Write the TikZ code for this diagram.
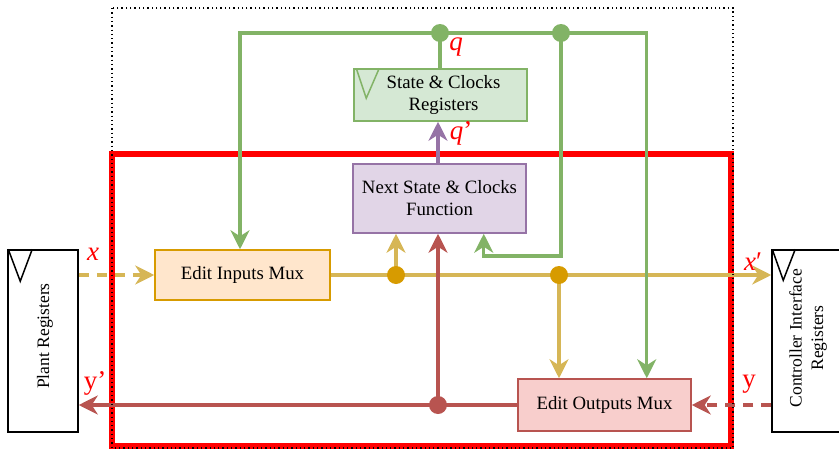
\documentclass[tikz,border=0pt]{standalone}
\usepackage{fontspec}
\setmainfont{Liberation Serif}
\usetikzlibrary{arrows.meta}
\definecolor{ylw}{HTML}{D6B656}
\definecolor{ylwdot}{HTML}{D79B00}
\definecolor{grn}{HTML}{82B366}
\definecolor{rdd}{HTML}{B85450}
\definecolor{prp}{HTML}{9673A6}
\definecolor{fOrange}{HTML}{FFE6CC}
\definecolor{fPurple}{HTML}{E1D5E7}
\definecolor{fGreen}{HTML}{D5E8D4}
\definecolor{fRed}{HTML}{F8CECC}
\tikzset{
  blk/.style={draw, line width=1.5pt, align=center, inner sep=0pt,
    font=\fontsize{18.8}{22}\selectfont, text=black},
  reg/.style={draw=black, line width=1.5pt, fill=white, minimum width=70pt, minimum height=182pt, inner sep=0pt},
  conn/.style={line width=3.3pt},
  tip/.style={-{Stealth[length=19pt,width=19pt,inset=6pt]}},
  dot/.style={circle, inner sep=0pt, minimum size=18pt},
  lbl/.style={text=red, font=\fontsize{27}{29}\selectfont, inner sep=0pt},
}
\begin{document}
\begin{tikzpicture}[x=1pt,y=-1pt]
\useasboundingbox (0,0) rectangle (839,450);
% red frame
\draw[red, line width=6pt] (112,154) rectangle (731,446);

% nodes
\node[blk, draw=ylwdot, fill=fOrange, minimum width=175pt, minimum height=50pt] (ein) at (242.5,275) {Edit Inputs Mux};
\node[blk, draw=prp, fill=fPurple, minimum width=173pt, minimum height=69pt] (ns) at (439.5,198.5) {Next State \& Clocks\\Function};
\node[blk, draw=grn, fill=fGreen, minimum width=173pt, minimum height=52pt] (sc) at (440.5,95) {\hspace*{6pt}State \& Clocks\\\hspace*{6pt}Registers};
\draw[grn, line width=1.5pt] ([xshift=3pt]sc.north west) -- ([xshift=13pt,yshift=-30pt]sc.north west) -- ([xshift=26pt]sc.north west);
\node[blk, draw=rdd, fill=fRed, minimum width=173pt, minimum height=52pt] (eout) at (604.5,405) {Edit Outputs Mux};

\node[reg] (plant) at (43,341) {};
\node[rotate=90, font=\fontsize{17.5}{20}\selectfont] (plantt) at (45,336) {Plant Registers};
\draw[line width=1.5pt] (plant.north west) ++(1,0) -- ++(12,32) -- ++(12,-32);
\node[reg] (ctrl) at (807,341) {};
\node[rotate=90, align=center, font=\fontsize{17.5}{21.5}\selectfont] (ctrlt) at (808,338) {Controller Interface\\Registers};
\draw[line width=1.5pt] (ctrl.north west) ++(1,0) -- ++(11,31) -- ++(12,-31);

% coordinates
\coordinate (d1) at (396,275);
\coordinate (d2) at (559,275);
\coordinate (d3) at (438,405);
\coordinate (g1) at (440,33);
\coordinate (g2) at (561,33);

% yellow
\draw[conn, ylw, tip, dashed, dash pattern=on 10pt off 8pt] (plant.east |- ein.west) -- (ein.west);
\draw[conn, ylw, tip] (ein.east) -- (ctrl.west |- ein.east);
\draw[conn, ylw, tip] (d1) -- (d1 |- ns.south);
\draw[conn, ylw, tip] (d2) -- (d2 |- eout.north);
\node[dot, fill=ylwdot] (dd1) at (d1) {};
\node[dot, fill=ylwdot] (dd2) at (d2) {};

% red
\draw[conn, rdd, tip, dash pattern=on 10pt off 8pt] (ctrl.west |- eout.east) -- (eout.east);
\draw[conn, rdd, tip] (eout.west) -- (plant.east |- eout.west);
\draw[conn, rdd, tip] (d3) -- (d3 |- ns.south);
\node[dot, fill=rdd] (dd3) at (d3) {};

% purple
\draw[conn, prp, tip] (ns.north -| 438,0) -- (sc.south -| 438,0);

% green
\draw[conn, grn] (sc.north -| g1) -- (g1);
\draw[conn, grn, tip] (g1) -| ([xshift=-2.5pt]ein.north);
\draw[conn, grn, tip] (g1) -| ([xshift=-45pt]eout.north east);
\draw[conn, grn, tip] (g2) -- (g2 |- 0,256) -| ([xshift=-43pt]ns.south east);
\node[dot, fill=grn] (gg1) at (g1) {};
\node[dot, fill=grn] (gg2) at (g2) {};

% dotted frame
\draw[line width=1.3pt, dash pattern=on 1.3pt off 3pt] (112,8) rectangle (733,448);

% labels
\node[lbl] (lx) at (93,254) {\textit{x}};
\node[lbl] (lxp) at (753,262) {\textit{x}′};
\node[lbl] (ly) at (749,384) {y};
\node[lbl] (lyp) at (95,383) {y'};
\node[lbl] (lq) at (456,47) {\textit{q}};
\node[lbl] (lqp) at (461,133) {\textit{q}'};
\end{tikzpicture}
\end{document}
